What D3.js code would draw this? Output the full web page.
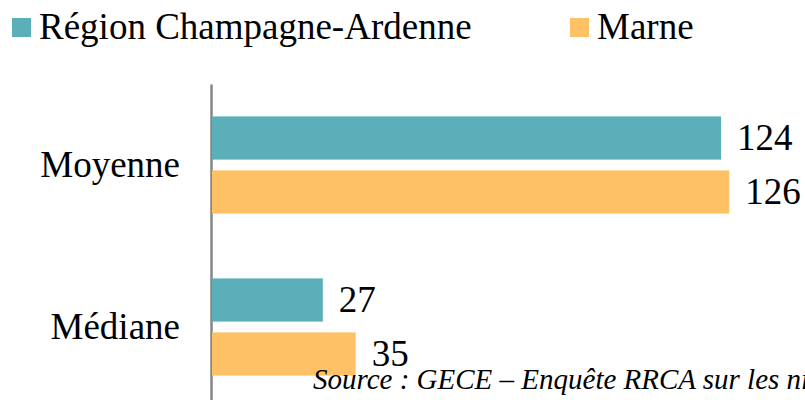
<!DOCTYPE html>
<html>
<head>
<meta charset="utf-8">
<script src="https://cdn.jsdelivr.net/npm/d3@7"></script>
<style>
  body { margin: 0; background: #fff; }
  svg { display: block; font-family: "Liberation Serif", "Times New Roman", serif; }
</style>
</head>
<body>
<div id="chart"></div>
<script>
  // data
  let categories = ['Moyenne', 'Médiane'];
  let seriesNames = ['Région Champagne-Ardenne', 'Marne'];
  let regionValues = [124, 27];
  let marneValues = [126, 35];
  let colors = ['#5bafb8', '#ffc166'];

  let width = 805, height = 400;

  let data = categories.map((c, i) => ({
    cat: c,
    values: [
      { name: seriesNames[0], value: regionValues[i], color: colors[0] },
      { name: seriesNames[1], value: marneValues[i], color: colors[1] }
    ]
  }));

  var svg = d3.select('#chart')
    .append('svg')
    .attr('width', width)
    .attr('height', height);

  let x = d3.scaleLinear().domain([0, 140]).range([212, 786.7]);

  let y = d3.scaleBand()
    .domain(categories)
    .range([84, 408])
    .paddingInner(0.4)
    .paddingOuter(0.2);

  let ySub = d3.scaleBand()
    .domain(seriesNames)
    .range([0, y.bandwidth()])
    .paddingInner(0.2);

  // axe vertical + libellés
  let yAxis = svg.append('g')
    .attr('transform', 'translate(211,0)')
    .call(d3.axisLeft(y).tickSize(0).tickSizeOuter(0).tickPadding(31));

  yAxis.select('.domain')
    .attr('stroke', '#868686')
    .attr('stroke-width', 2.5);

  yAxis.selectAll('text')
    .attr('font-family', '"Liberation Serif", serif')
    .attr('font-size', 37)
    .attr('fill', '#000')
    .attr('dy', '0.33em');

  let groups = svg.selectAll('.cat')
    .data(data)
    .enter()
    .append('g')
    .attr('class', 'cat')
    .attr('transform', d => 'translate(0,' + y(d.cat) + ')');

  groups.selectAll('rect')
    .data(d => d.values)
    .enter()
    .append('rect')
    .attr('x', x(0))
    .attr('y', d => ySub(d.name))
    .attr('width', d => x(d.value) - x(0))
    .attr('height', ySub.bandwidth())
    .attr('fill', d => d.color);

  groups.selectAll('text.val')
    .data(d => d.values)
    .enter()
    .append('text')
    .attr('class', 'val')
    .attr('x', d => x(d.value) + 16)
    .attr('y', d => ySub(d.name) + ySub.bandwidth() / 2)
    .attr('dy', '0.33em')
    .attr('font-size', 37)
    .text(d => d.value);

  // légende
  let legendX = [12, 570];
  let legend = svg.selectAll('.legend')
    .data(seriesNames)
    .enter()
    .append('g')
    .attr('class', 'legend')
    .attr('transform', (d, i) => 'translate(' + legendX[i] + ',18)');

  legend.append('rect')
    .attr('width', 19)
    .attr('height', 19)
    .attr('fill', (d, i) => colors[i]);

  legend.append('text')
    .attr('x', 27)
    .attr('y', 21)
    .attr('font-size', 37)
    .text(d => d);

  // source
  svg.append('text')
    .attr('x', 313)
    .attr('y', 389)
    .attr('font-size', 29)
    .attr('font-style', 'italic')
    .text('Source : GECE – Enquête RRCA sur les niveaux de loyers');
</script>
</body>
</html>
